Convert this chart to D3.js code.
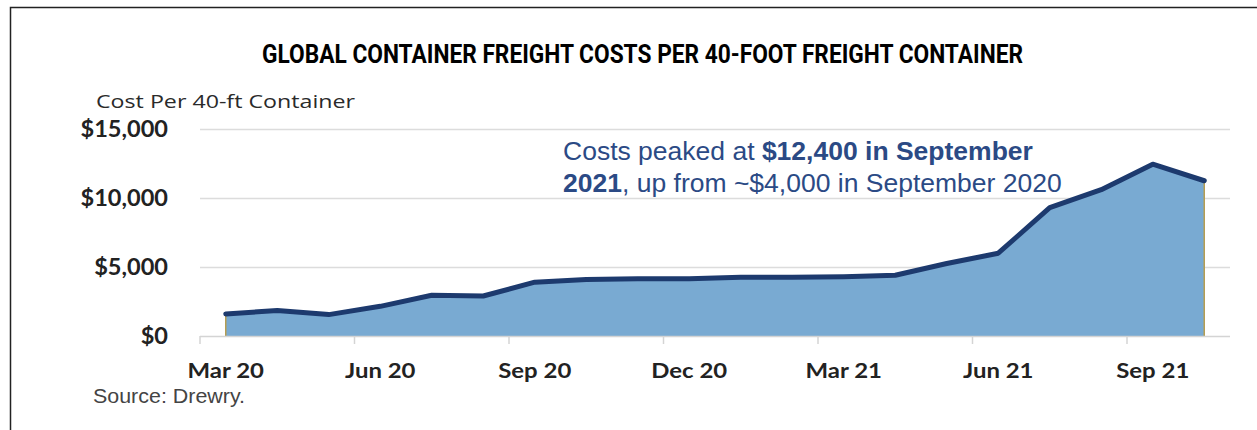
<!DOCTYPE html>
<html>
<head>
<meta charset="utf-8">
<script src="https://cdn.jsdelivr.net/npm/d3@7"></script>
<style>
  body { margin: 0; background: #fff; }
  svg { display: block; }
</style>
</head>
<body>
<div id="chart"></div>
<script>
// Global container freight costs, monthly Mar 2020 - Oct 2021 (Drewry)

const months = ['Mar 20','Apr 20','May 20','Jun 20','Jul 20','Aug 20','Sep 20','Oct 20','Nov 20','Dec 20',
                'Jan 21','Feb 21','Mar 21','Apr 21','May 21','Jun 21','Jul 21','Aug 21','Sep 21','Oct 21'];
const costs = [1600, 1850, 1550, 2150, 2950, 2900, 3900, 4100, 4150, 4150,
               4250, 4250, 4300, 4400, 5250, 6000, 9300, 10600, 12450, 11250];
const tickMonths = ['Mar 20','Jun 20','Sep 20','Dec 20','Mar 21','Jun 21','Sep 21'];
const yTicks = [0, 5000, 10000, 15000];

const W = 1257, H = 430;
const plot = { left: 200, right: 1230, top: 129, bottom: 336 };

const svg = d3.select('#chart').append('svg')
    .attr('width', W).attr('height', H);

// the source image is stretched sideways, so text is widened to match
function widen(sel, factor) {
    sel.each(function () {
        const len = this.getComputedTextLength();
        d3.select(this).attr('textLength', len * factor).attr('lengthAdjust', 'spacingAndGlyphs');
    });
}

// Frame (only top and left edges show in the crop)
svg.append('path')
    .attr('d', `M10.5,${H} L10.5,7.5 L${W},7.5`)
    .attr('fill', 'none').attr('stroke', '#222').attr('stroke-width', 1.5);

const x = d3.scaleBand().domain(months).range([plot.left, plot.right]);
const y = d3.scaleLinear().domain([0, 15000]).range([plot.bottom, plot.top]);
const cx = m => x(m) + x.bandwidth() / 2;

// Title
svg.append('text')
    .attr('x', 262).attr('y', 63)
    .attr('font-family', 'Roboto, sans-serif')
    .attr('font-weight', 700).attr('font-size', '25px')
    .attr('fill', '#000')
    .attr('textLength', 761).attr('lengthAdjust', 'spacingAndGlyphs')
    .text('GLOBAL CONTAINER FREIGHT COSTS PER 40-FOOT FREIGHT CONTAINER');

// Axis title
svg.append('text')
    .attr('x', 96).attr('y', 108)
    .attr('font-family', '"Open Sans", Lato, sans-serif')
    .attr('font-size', '19px').attr('fill', '#2a2a2a')
    .attr('textLength', 259).attr('lengthAdjust', 'spacingAndGlyphs')
    .text('Cost Per 40-ft Container');

// Gridlines
svg.append('g').selectAll('line')
    .data(yTicks.filter(d => d > 0))
    .join('line')
    .attr('x1', plot.left).attr('x2', plot.right)
    .attr('y1', d => y(d) + 0.5).attr('y2', d => y(d) + 0.5)
    .attr('stroke', '#dcdcdc').attr('stroke-width', 1.5);

// Y labels
svg.append('g').selectAll('text')
    .data(yTicks)
    .join('text')
    .attr('x', 168).attr('y', d => y(d))
    .attr('dy', '0.35em')
    .attr('text-anchor', 'end')
    .attr('font-family', 'Lato, "Open Sans", sans-serif')
    .attr('font-weight', 700).attr('font-size', '22px')
    .attr('fill', '#222')
    .text(d => '$' + d3.format(',')(d))
    .call(widen, 1.07);

// Area + line
const area = d3.area()
    .x(d => cx(d.m)).y0(y(0)).y1(d => y(d.v));
const line = d3.line()
    .x(d => cx(d.m)).y(d => y(d.v));
const series = months.map((m, i) => ({ m, v: costs[i] }));

svg.append('path')
    .datum(series)
    .attr('d', area)
    .attr('fill', '#79aad2');

// thin edges of the area
[series[0], series[series.length - 1]].forEach(d => {
    svg.append('line')
        .attr('x1', cx(d.m)).attr('x2', cx(d.m))
        .attr('y1', y(d.v)).attr('y2', y(0))
        .attr('stroke', '#b59d52').attr('stroke-width', 1.5);
});

svg.append('path')
    .datum(series)
    .attr('d', line)
    .attr('fill', 'none')
    .attr('stroke', '#1d3a6e').attr('stroke-width', 5)
    .attr('stroke-linejoin', 'round').attr('stroke-linecap', 'round');

// X axis baseline and ticks at band edges
svg.append('line')
    .attr('x1', plot.left).attr('x2', plot.right)
    .attr('y1', y(0) + 0.5).attr('y2', y(0) + 0.5)
    .attr('stroke', '#d4d4d4').attr('stroke-width', 1.5);

svg.append('g').selectAll('line')
    .data(tickMonths)
    .join('line')
    .attr('x1', d => x(d)).attr('x2', d => x(d))
    .attr('y1', y(0)).attr('y2', y(0) + 8)
    .attr('stroke', '#d4d4d4').attr('stroke-width', 1.5);

svg.append('g').selectAll('text')
    .data(tickMonths)
    .join('text')
    .attr('x', d => cx(d)).attr('y', 378)
    .attr('text-anchor', 'middle')
    .attr('font-family', 'Lato, "Open Sans", sans-serif')
    .attr('font-weight', 700).attr('font-size', '21px')
    .attr('fill', '#222')
    .text(d => d)
    .call(widen, 1.14);

// Source
svg.append('text')
    .attr('x', 93).attr('y', 403)
    .attr('font-family', '"Liberation Sans", Arial, sans-serif')
    .attr('font-size', '20px').attr('fill', '#444')
    .attr('textLength', 152).attr('lengthAdjust', 'spacingAndGlyphs')
    .text('Source: Drewry.');

// Annotation
const note = svg.append('text')
    .attr('font-family', '"Liberation Sans", Arial, sans-serif')
    .attr('font-size', '26.5px').attr('fill', '#2b4a85');
const l1 = note.append('tspan').attr('x', 563).attr('y', 160);
l1.append('tspan').text('Costs peaked at ');
l1.append('tspan').attr('font-weight', 700).text('$12,400 in September');
const l2 = note.append('tspan').attr('x', 563).attr('y', 192);
l2.append('tspan').attr('font-weight', 700).text('2021');
l2.append('tspan').text(', up from ~$4,000 in September 2020');
</script>
</body>
</html>
